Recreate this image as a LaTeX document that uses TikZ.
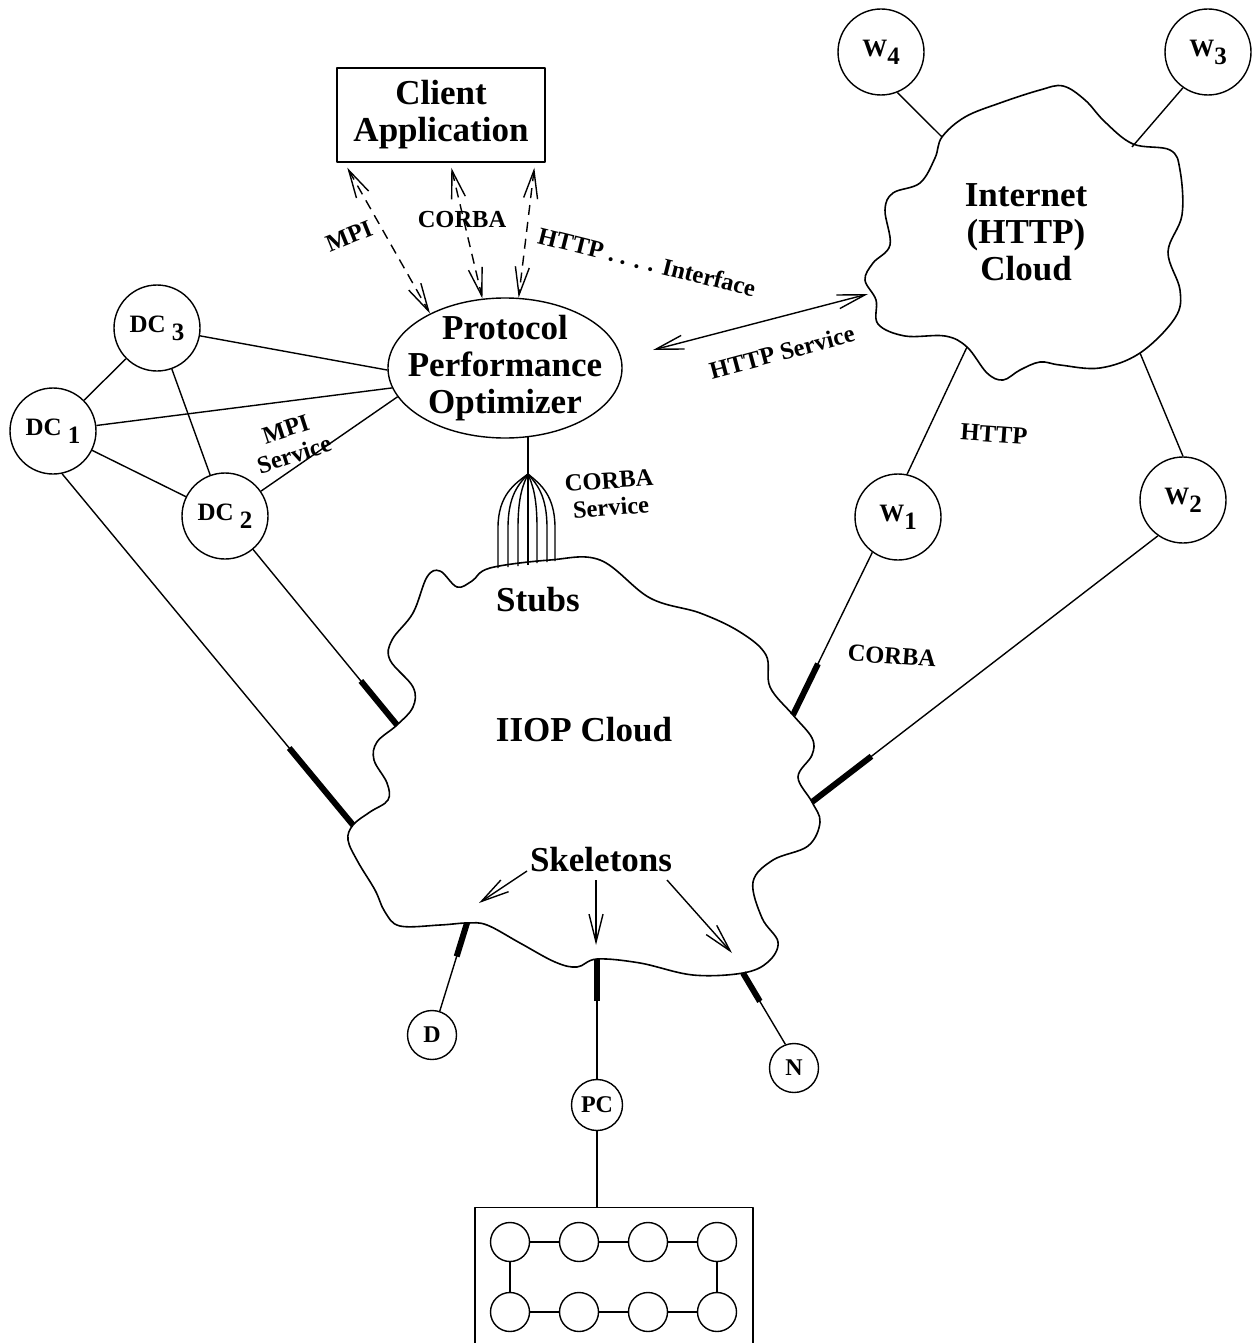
\documentclass[tikz,border=0pt]{standalone}
\usepackage{fontspec}
\setmainfont{Liberation Serif}
\usetikzlibrary{arrows.meta,calc,shapes.geometric}
\newcommand\dnsub[1]{\raisebox{-0.32em}{#1}}
\begin{document}
\begin{tikzpicture}[x=1pt,y=-1pt,line width=1.4pt,line join=round,
  bigtxt/.style={font=\bfseries\fontsize{35}{37}\selectfont,align=center,inner sep=0pt},
  lbl/.style={font=\bfseries\fontsize{24.5}{27}\selectfont,align=center,inner sep=0pt},
  bigc/.style={circle,draw,minimum size=86pt,inner sep=0pt,font=\bfseries\fontsize{25}{26}\selectfont},
  smc/.style={circle,draw,minimum size=49pt,inner sep=0pt,font=\bfseries\fontsize{24}{24}\selectfont},
  tinyc/.style={circle,draw,minimum size=39pt,inner sep=0pt},
  jack/.style={line width=6pt},
  dbl/.style={{Straight Barb[length=28pt,width=14pt]}-{Straight Barb[length=28pt,width=14pt]}},
  one/.style={-{Straight Barb[length=28pt,width=14pt]}},
  dashy/.style={dash pattern=on 10pt off 7pt},
  cloudline/.style={line width=1.6pt}
]
\clip (0,0) rectangle (1252,1343);
\fill[white] (0,0) rectangle (1252,1343);

% ---------- main nodes ----------
\node[draw,bigtxt,minimum width=208pt,minimum height=94pt] (client) at (441,115) {Client\\Application};
\node[ellipse,draw,minimum width=234pt,minimum height=140pt,inner sep=0pt] (ppo) at (505,368) {};
\node[bigtxt] (ppot) at (505,368) {Protocol\\Performance\\Optimizer};

\node[bigc] (dc3) at (157,328) {DC \dnsub{3}};
\node[bigc] (dc1) at (53,431) {DC \dnsub{1}};
\node[bigc] (dc2) at (225,516) {DC \dnsub{2}};

\node[bigc] (w4) at (881,52) {W\dnsub{4}};
\node[bigc] (w3) at (1208,52) {W\dnsub{3}};
\node[bigc] (w1) at (898,517) {W\dnsub{1}};
\node[bigc] (w2) at (1183,500) {W\dnsub{2}};

\node[smc] (d) at (432,1035) {D};
\node[smc,minimum size=51pt] (pc) at (597,1105) {PC};
\node[smc] (n) at (794,1068) {N};

% ---------- Internet cloud ----------
\draw[cloudline] plot[smooth cycle,tension=0.6] coordinates {
 (942,137) (965,117) (1000,103) (1040,90) (1063,86) (1085,100) (1105,122) (1133,144)
 (1170,150) (1180,170) (1182,215) (1168,252) (1180,290) (1175,318) (1140,353)
 (1100,368) (1060,365) (1040,362) (1020,370) (1003,380) (987,373) (967,347)
 (945,336) (905,336) (878,324) (876,300) (865,280) (873,263) (890,245) (885,210)
 (893,193) (920,183) (935,158)};
\coordinate (iw4) at (942,137);
\coordinate (iw3) at (1132,147);
\coordinate (iw1) at (967,347);
\coordinate (iw2) at (1140,353);
\node[bigtxt] (inet) at (1026,232) {Internet\\(HTTP)\\Cloud};

% ---------- IIOP cloud ----------
\draw[cloudline] plot[smooth cycle,tension=0.6] coordinates {
 (440,571) (457,587) (472,581) (490,568) (550,560) (600,560) (650,598) (700,613)
 (740,632) (766,655) (770,687) (793,715) (812,738) (812,755) (798,777) (812,802)
 (820,822) (808,846) (773,860) (753,882) (762,918) (778,942) (768,962) (743,973)
 (693,975) (640,963) (597,959) (577,967) (555,962) (520,943) (487,925) (467,923)
 (440,925) (400,926) (385,912) (375,890) (358,862) (348,840) (353,825) (370,812)
 (388,800) (387,783) (374,760) (377,742) (397,725) (413,707) (413,687) (390,660)
 (392,640) (413,613) (427,577)};
\coordinate (c1) at (353,825);
\coordinate (c2) at (397,725);
\coordinate (cw1) at (793,715);
\coordinate (cw2) at (812,802);
\coordinate (cd) at (467,923);
\coordinate (cpc) at (597,959);
\coordinate (cn) at (743,973);
\node[bigtxt] (iiop) at (584,730) {IIOP Cloud};
\node[bigtxt] (stubs) at (538,600) {Stubs};
\node[bigtxt] (sk) at (601,860) {Skeletons};

% ---------- stubs fan ----------
\coordinate (fan) at (528,474);
\draw (fan) -- (ppo.-71 -| fan);
\foreach \fx/\fy in {498/568,508/567,518/566,537/563,547/562,555/561}{
  \draw (fan) .. controls ({528+0.45*(\fx-528)},484) and (\fx,495) .. (\fx,528) -- (\fx,\fy);
}
\draw (fan) -- (528,565);

% ---------- client arrows ----------
\draw[dbl,dashy] ($(client.south west)+(11,5)$) -- (ppo.144);
\draw[dbl,dashy] ($(client.south west)+(115,5)$) -- (ppo.108);
\draw[dbl,dashy] ($(client.south west)+(198,5)$) -- (ppo.79);
\node[lbl,rotate=22] (lmpi) at (349,236) {MPI};
\node[lbl] (lcorba) at (462,220) {CORBA};
\node[lbl,rotate=-14] (lhttp) at (647,262) {HTTP . . . . Interface};

% ---------- HTTP service ----------
\coordinate (hsl) at (653,350);
\coordinate (hsr) at (868,294);
\draw[dbl] (hsl) -- (hsr);
\node[lbl,rotate=15] (lhs) at (782,352) {HTTP Service};

% ---------- DC mesh ----------
\draw (dc3) -- (ppo.181);
\draw (dc1) -- (ppo.190);
\draw (dc2) -- (ppo.195);
\draw (dc1) -- (dc3);
\draw (dc1) -- (dc2);
\draw (dc3) -- (dc2);
\node[lbl,rotate=18] (lmpis) at (290,442) {MPI\\Service};
\node[lbl,rotate=4] (lcs) at (610,494) {CORBA\\Service};

% ---------- spokes into IIOP ----------
\draw (dc1.-78) -- (c1);
\draw[jack] ($(c1)!100pt!(dc1.-78)$) -- (c1);
\draw (dc2.-50) -- (c2);
\draw[jack] ($(c2)!57pt!(dc2.-50)$) -- (c2);
\draw (w1.-126) -- (cw1);
\draw[jack] ($(cw1)!57pt!(w1.-126)$) -- (cw1);
\draw (w2.-125) -- (cw2);
\draw[jack] ($(cw2)!75pt!(w2.-125)$) -- (cw2);
\draw (d.72) -- (cd);
\draw[jack] ($(cd)!35pt!(d.72)$) -- (cd);
\draw (pc.north) -- (cpc);
\draw[jack] ($(cpc)!42pt!(pc.north)$) -- (cpc);
\draw (n.110) -- (cn);
\draw[jack] ($(cn)!33pt!(n.110)$) -- (cn);

% ---------- spokes into Internet ----------
\draw (w4.-68) -- (iw4);
\draw (w3.-125) -- (iw3);
\draw (w1.78) -- (iw1);
\draw (w2.north) -- (iw2);
\node[lbl,rotate=-4] (lhttp2) at (994,434) {HTTP};
\node[lbl,rotate=-4] (lcorba2) at (892,656) {CORBA};

% ---------- skeleton arrows ----------
\coordinate (ska) at (479,903);
\coordinate (skb) at (596,945);
\coordinate (skc) at (732,953);
\draw[one] (527,871) -- (ska);
\draw[one] (596,880) -- (skb);
\draw[one] (667,880) -- (skc);

% ---------- parallel machine ----------
\node[draw,minimum width=278pt,minimum height=150pt,inner sep=0pt,anchor=north] (box) at (614,1207) {};
\draw (pc.south) -- (pc.south |- box.north);
\foreach \i/\x in {1/510,2/579,3/648,4/717}{
  \node[tinyc] (t\i) at (\x,1242) {};
  \node[tinyc] (b\i) at (\x,1312) {};
}
\draw (t1) -- (t2) (t2) -- (t3) (t3) -- (t4);
\draw (b1) -- (b2) (b2) -- (b3) (b3) -- (b4);
\draw (t1) -- (b1) (t4) -- (b4);
\end{tikzpicture}
\end{document}
